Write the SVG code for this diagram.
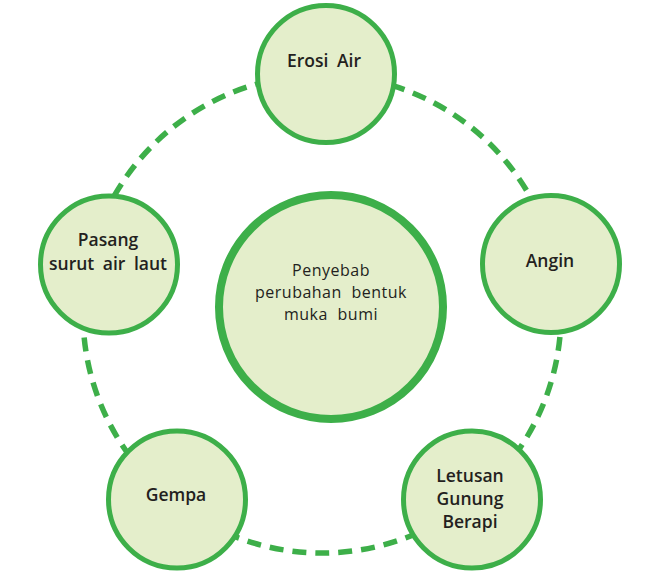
<svg xmlns="http://www.w3.org/2000/svg" width="650" height="580" viewBox="0 0 650 580">
<style>
.node{fill:#e4eecb;stroke:#3daf49;stroke-width:5}
.main{fill:#e4eecb;stroke:#3daf49;stroke-width:8}
.lbl{font-family:"Open Sans","Noto Sans","Liberation Sans",sans-serif;font-size:17.5px;font-weight:600;fill:#231f20;text-anchor:middle;word-spacing:4px}
.ctr{font-family:"Open Sans","Noto Sans","Liberation Sans",sans-serif;font-size:16px;font-weight:400;fill:#231f20;text-anchor:middle;letter-spacing:0.5px;word-spacing:5px}
.ring{fill:none;stroke:#3daf49;stroke-width:5.5;stroke-dasharray:14 9}
</style>
<rect width="650" height="580" fill="#ffffff"/>
<g id="connectors">
<circle class="ring" cx="322" cy="314" r="239"/>
</g>
<g id="center">
<circle class="main" cx="331" cy="307" r="112"/>
<text class="ctr" x="331" y="275.5">Penyebab</text>
<text class="ctr" x="331" y="297.5">perubahan bentuk</text>
<text class="ctr" x="331" y="319.5">muka bumi</text>
</g>
<g id="erosi-air">
<circle class="node" cx="326" cy="74" r="68.5"/>
<text class="lbl" x="324" y="67">Erosi Air</text>
</g>
<g id="angin">
<circle class="node" cx="551" cy="264" r="68.5"/>
<text class="lbl" x="550" y="267">Angin</text>
</g>
<g id="pasang-surut">
<circle class="node" cx="109" cy="264.5" r="68.5"/>
<text class="lbl" x="108" y="246">Pasang</text>
<text class="lbl" x="108" y="269.5">surut air laut</text>
</g>
<g id="gempa">
<circle class="node" cx="177" cy="499.5" r="68.5"/>
<text class="lbl" x="176" y="501">Gempa</text>
</g>
<g id="letusan">
<circle class="node" cx="472" cy="499.5" r="68.5"/>
<text class="lbl" x="470" y="482">Letusan</text>
<text class="lbl" x="470" y="505">Gunung</text>
<text class="lbl" x="470" y="528">Berapi</text>
</g>
</svg>
